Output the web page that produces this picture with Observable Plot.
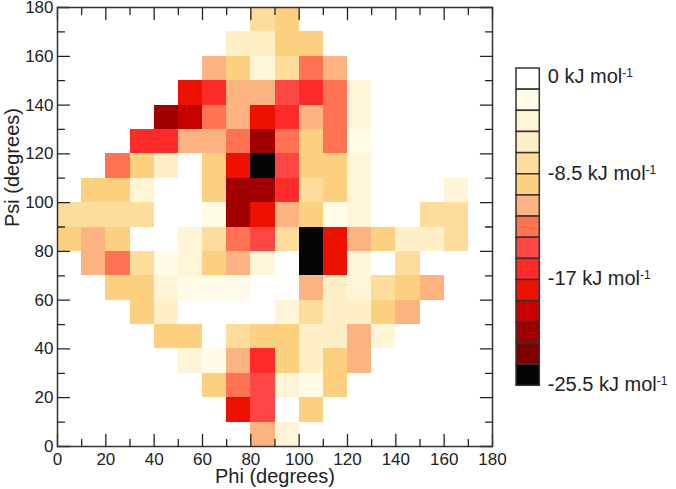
<!DOCTYPE html>
<html>
<head>
<meta charset="utf-8">
<script src="https://cdn.jsdelivr.net/npm/d3@7"></script>
<script src="https://cdn.jsdelivr.net/npm/@observablehq/plot@0.6"></script>
<style>
  html, body { margin: 0; padding: 0; background: #fff; }
  #wrap { position: relative; width: 676px; height: 489px; font-family: "Liberation Sans", Arial, sans-serif; }
  #main { position: absolute; left: 0; top: 0; width: 676px; }
  #legend { position: absolute; left: 500px; top: 0; width: 176px; }
</style>
</head>
<body>
<div id="wrap"><div id="main"></div><div id="legend"></div></div>
<script>
// Bin starts (degrees), bin width 10
const binSize = 10;
const phiStarts = [0,10,20,30,40,50,60,70,80,90,100,110,120,130,140,150,160,170];
// Rows from psi 170-180 (top) down to psi 0-10 (bottom)
const psiStarts = [170,160,150,140,130,120,110,100,90,80,70,60,50,40,30,20,10,0];
// Free-energy level per cell: 0 = 0 kJ/mol ... 14 = -25.5 kJ/mol (steps of 1.7)
const levelGrid = [
  [0,0,0,0,0,0,0,0,4,5,0,0,0,0,0,0,0,0],
  [0,0,0,0,0,0,0,3,3,5,5,0,0,0,0,0,0,0],
  [0,0,0,0,0,0,6,5,2,4,7,6,0,0,0,0,0,0],
  [0,0,0,0,0,10,9,6,6,8,9,7,2,0,0,0,0,0],
  [0,0,0,0,12,11,7,6,10,9,6,7,2,0,0,0,0,0],
  [0,0,0,9,9,6,6,7,12,7,5,7,1,0,0,0,0,0],
  [0,0,7,5,3,0,5,10,14,8,5,5,2,0,0,0,0,0],
  [0,5,5,2,0,0,5,12,12,9,4,5,2,0,0,0,2,0],
  [4,4,4,4,0,0,1,12,10,6,5,1,2,0,0,4,4,0],
  [5,6,5,0,0,2,4,7,8,4,14,10,6,5,3,3,4,0],
  [0,6,7,4,1,2,5,6,2,0,14,10,2,0,4,0,0,0],
  [0,0,5,5,2,1,1,1,0,0,6,3,2,4,5,6,0,0],
  [0,0,0,5,3,0,0,0,0,2,4,3,3,5,6,0,0,0],
  [0,0,0,0,5,5,0,4,5,5,3,3,6,2,0,0,0,0],
  [0,0,0,0,0,2,1,6,9,5,3,5,6,0,0,0,0,0],
  [0,0,0,0,0,0,5,7,8,2,1,5,0,0,0,0,0,0],
  [0,0,0,0,0,0,0,10,8,0,5,0,0,0,0,0,0,0],
  [0,0,0,0,0,0,0,0,6,2,0,0,0,0,0,0,0,0]
];
const levelStep = 1.7;
const legendValues = [0, -8.5, -17, -25.5];
const palette = ["#ffffff","#fffbe6","#fff5d6","#ffefc6","#fddc9c","#fdd080","#fdb282",
                 "#ff7352","#ff4646","#ff2a2a","#ee1100","#c80000","#a00000","#800000","#050505"];
const majorTicks = [0,20,40,60,80,100,120,140,160,180];
const minorTicks = [10,30,50,70,90,110,130,150,170];

const cells = [];
levelGrid.forEach((row, r) => row.forEach((lev, c) => {
  if (lev > 0) cells.push({phi: phiStarts[c], psi: psiStarts[r], level: lev});
}));
const levelIdx = d3.range(palette.length);
const colorScale = {type: "ordinal", domain: levelIdx, range: palette};
const ink = "#222";
const font = "'Liberation Sans', Arial, sans-serif";
const MAJ = 12, MIN = 7;

// inward ticks drawn as straight vectors starting at the frame edge
const lineShape = {draw(context, l) { context.moveTo(0, 0); context.lineTo(0, -l); }};
const tickMarks = [];
for (const [ticks, len] of [[majorTicks, MAJ], [minorTicks, MIN]]) {
  const common = {length: len, anchor: "start", shape: lineShape, stroke: ink, strokeWidth: 1.3};
  tickMarks.push(
    Plot.vector(ticks, {x: d => d, frameAnchor: "bottom", rotate: 0, ...common}),
    Plot.vector(ticks, {x: d => d, frameAnchor: "top", rotate: 180, ...common}),
    Plot.vector(ticks, {y: d => d, frameAnchor: "left", rotate: 90, ...common}),
    Plot.vector(ticks, {y: d => d, frameAnchor: "right", rotate: -90, ...common})
  );
}

const main = Plot.plot({
  width: 676, height: 489,
  marginLeft: 57, marginRight: 184, marginTop: 7, marginBottom: 43,
  style: {fontFamily: font, fontSize: "17px", color: ink, background: "transparent", overflow: "visible"},
  x: {domain: [0, 180], label: null},
  y: {domain: [0, 180], label: null},
  color: colorScale,
  marks: [
    Plot.rect(cells, {x1: "phi", x2: d => d.phi + binSize, y1: "psi", y2: d => d.psi + binSize, fill: "level", shapeRendering: "crispEdges"}),
    ...tickMarks,
    Plot.axisX({ticks: majorTicks, anchor: "bottom", tickSize: 0, tickPadding: 6, fontSize: 17, label: null, fill: ink}),
    Plot.axisY({ticks: majorTicks, anchor: "left", tickSize: 0, tickPadding: 4, fontSize: 17, label: null, fill: ink}),
    Plot.frame({stroke: "#333", strokeWidth: 1.5}),
    Plot.text(["Phi (degrees)"], {text: d => d, frameAnchor: "bottom", lineAnchor: "middle", dy: 30.5, fontSize: 20, fill: ink}),
    Plot.text(["Psi (degrees)"], {text: d => d, frameAnchor: "left", lineAnchor: "middle", dx: -45, rotate: -90, fontSize: 20, fill: ink})
  ]
});
document.getElementById("main").appendChild(main);

const legend = Plot.plot({
  width: 176, height: 489, margin: 0,
  style: {fontFamily: font, fontSize: "20px", color: ink, background: "transparent"},
  x: {domain: [0, 1], range: [16, 39.3], axis: null},
  y: {domain: [0, 15], range: [68, 385.3], axis: null},
  color: colorScale,
  marks: [
    Plot.rect(levelIdx, {x1: 0, x2: 1, y1: d => d, y2: d => d + 1, fill: d => d, stroke: "#333", strokeWidth: 1.5}),
    Plot.text(legendValues.slice(0, 1), {x: 1, y: d => d / -levelStep, text: d => `${d} kJ mol`, dx: 8, dy: 8, textAnchor: "start", fontSize: 20, fill: ink}),
    Plot.text(legendValues.slice(1), {x: 1, y: d => d / -levelStep, text: d => `${d} kJ mol`, dx: 8, dy: -1, textAnchor: "start", fontSize: 20, fill: ink})
  ]
});
legend.querySelectorAll('g[aria-label="text"] text').forEach(t => {
  const s = document.createElementNS("http://www.w3.org/2000/svg", "tspan");
  s.setAttribute("dy", "-0.5em");
  s.setAttribute("font-size", "12");
  s.textContent = "-1";
  t.appendChild(s);
});
document.getElementById("legend").appendChild(legend);
</script>
</body>
</html>
